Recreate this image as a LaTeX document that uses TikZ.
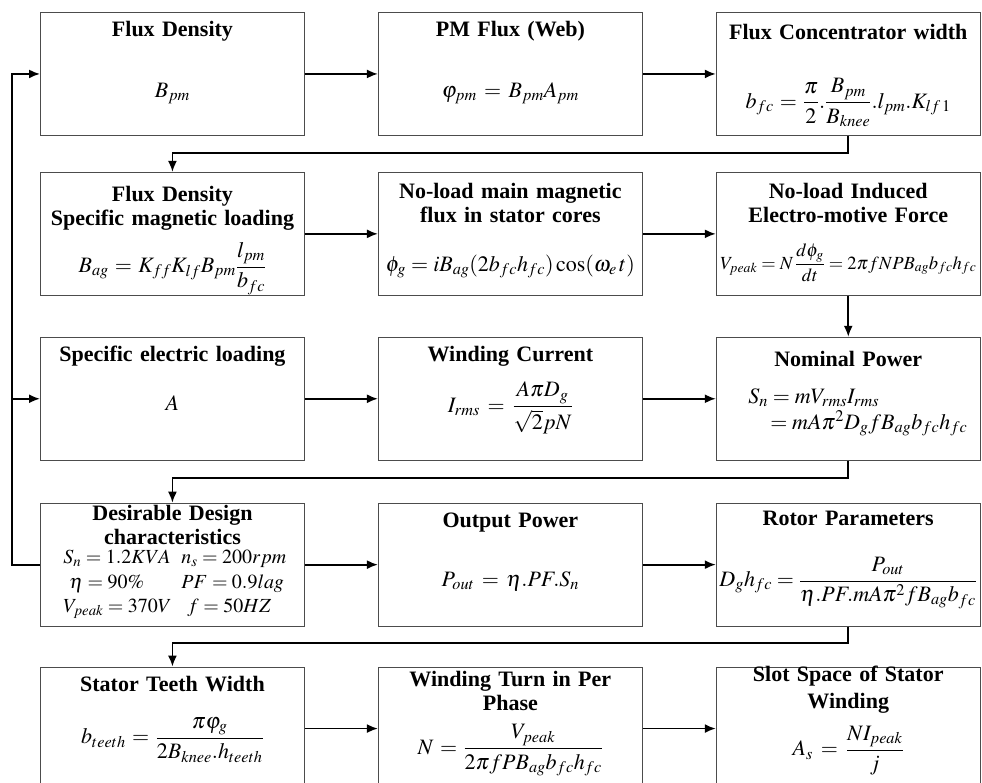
\documentclass[tikz,border=0pt]{standalone}
\usepackage{mathptmx}
\usepackage{amsmath}
\usepackage{fontspec}
\setmainfont{Liberation Serif}
\usetikzlibrary{positioning, arrows.meta}
\tikzset{
    line/.style={->, line width=1.8pt, black}
}

\begin{document}
\begin{tikzpicture}[
    x=1pt, y=1pt,
    node distance=36pt and 73pt,
    % box with the text hung from its top edge
    block/.style={
        rectangle, draw=black!70, line width=0.9pt,
        minimum width=264pt, minimum height=123pt,
        text width=258pt, inner xsep=3pt, inner ysep=0pt,
        align=center, text height=24pt, text depth=99pt,
        font=\fontsize{22}{24}\selectfont
    },
    >={Latex[length=11pt, width=9pt]}
]
    \useasboundingbox (0,0) rectangle (982,-782);

    % 1. ROW ONE
    \node[block, anchor=north west] (fd) at (40,-12) {\textbf{Flux Density}\\[37pt] $B_{pm}$};
    \node[block, right=of fd] (pmf) {\textbf{PM Flux (Web)}\\[37pt] $\varphi_{pm}=B_{pm}A_{pm}$};
    \node[block, right=of pmf, text height=27pt, text depth=96pt] (fcw) {\textbf{Flux Concentrator width}\\[38pt]
        $b_{fc}=\dfrac{\pi}{2}.\dfrac{B_{pm}}{B_{knee}}.l_{pm}.K_{lf\,1}$};

    % 2. ROW TWO
    \node[block, below=36pt of fd, text height=29pt, text depth=94pt] (fdl) {\textbf{Flux Density}\\\textbf{Specific magnetic loading}\\[11pt]
        $B_{ag}=K_{ff}K_{lf}B_{pm}\dfrac{l_{pm}}{b_{fc}}$};
    \node[block, right=of fdl, text height=26pt, text depth=97pt] (nlf) {\textbf{No-load main magnetic}\\\textbf{flux in stator cores}\\[25pt]
        $\phi_g=iB_{ag}(2b_{fc}h_{fc})\cos(\omega_e\,t)$};
    \node[block, right=of nlf, text height=26pt, text depth=97pt] (emf) {\textbf{No-load Induced}\\\textbf{Electro-motive Force}\\[20pt]
        \resizebox{256pt}{!}{$V_{peak}=N\,\dfrac{d\phi_g}{dt}=2\pi fNPB_{ag}b_{fc}h_{fc}$}};

    % 3. ROW THREE
    \node[block, below=41pt of fdl] (sel) {\textbf{Specific electric loading}\\[25pt] $A$};
    \node[block, right=of sel] (wc) {\textbf{Winding Current}\\[15pt] $I_{rms}=\dfrac{A\pi D_g}{\sqrt{2}pN}$};
    \node[block, right=of wc, text height=29pt, text depth=94pt] (np) {\textbf{Nominal Power}\\[13pt]
        \makebox[200pt][l]{$S_n=mV_{rms}I_{rms}$}\\[2pt]
        \makebox[200pt][l]{\hspace*{22pt}$=mA\pi^2D_gfB_{ag}b_{fc}h_{fc}$}};

    % 4. ROW FOUR
    \node[block, below=42pt of sel, text height=17pt, text depth=106pt] (des) {\textbf{Desirable Design}\\\textbf{characteristics}\\[-3pt]
        \fontsize{20}{22}\selectfont
        \makebox[118pt][l]{$S_n=1.2KVA$}\makebox[100pt][l]{$n_s=200rpm$}\\[3pt]
        \makebox[118pt][l]{\hspace*{6pt}$\eta=90\%$}\makebox[100pt][l]{$PF=0.9lag$}\\[0pt]
        \makebox[118pt][l]{$V_{peak}=370V$}\makebox[100pt][l]{\hspace*{6pt}$f=50HZ$}};
    \node[block, right=of des] (op) {\textbf{Output Power}\\[35pt] $P_{out}=\eta.PF.S_n$};
    \node[block, right=of op, text height=22pt, text depth=101pt] (rp) {\textbf{Rotor Parameters}\\[31pt]
        $D_gh_{fc}=\dfrac{P_{out}}{\eta.PF.mA\pi^2fB_{ag}b_{fc}}$};

    % 5. ROW FIVE
    \node[block, below=40pt of des] (stw) {\textbf{Stator Teeth Width}\\[25pt]
        $b_{teeth}=\dfrac{\pi\varphi_g}{2B_{knee}.h_{teeth}}$};
    \node[block, right=of stw, text height=19pt, text depth=104pt] (wtp) {\textbf{Winding Turn in Per}\\\textbf{Phase}\\[13pt]
        $N=\dfrac{V_{peak}}{2\pi fPB_{ag}b_{fc}h_{fc}}$};
    \node[block, right=of wtp, text height=14pt, text depth=109pt] (sss) {\textbf{Slot Space of Stator}\\[3pt]\textbf{Winding}\\[12pt]
        $A_s=\dfrac{NI_{peak}}{j}$};

    % 6. CONNECTORS
    \draw[line] (fd.east) -- (pmf.west);
    \draw[line] (pmf.east) -- (fcw.west);
    \draw[line] (fcw.south) -- ++(0,-17) -| (fdl.north);
    \draw[line] (fdl.east) -- (nlf.west);
    \draw[line] (nlf.east) -- (emf.west);
    \draw[line] (emf.south) -- (np.north);
    \draw[line] (sel.east) -- (wc.west);
    \draw[line] (wc.east) -- (np.west);
    \draw[line] (np.south) -- ++(0,-17) -| (des.north);
    \draw[line] (des.east) -- (op.west);
    \draw[line] (op.east) -- (rp.west);
    \draw[line] (rp.south) -- ++(0,-16) -| (stw.north);
    \draw[line] (stw.east) -- (wtp.west);
    \draw[line] (wtp.east) -- (sss.west);

    % 7. FEEDBACK FROM THE DESIGN DATA
    \draw[line] (des.west) -- ++(-28,0) coordinate (fb) |- (fd.west);
    \draw[line] (fb |- sel.west) -- (sel.west);

\end{tikzpicture}
\end{document}
